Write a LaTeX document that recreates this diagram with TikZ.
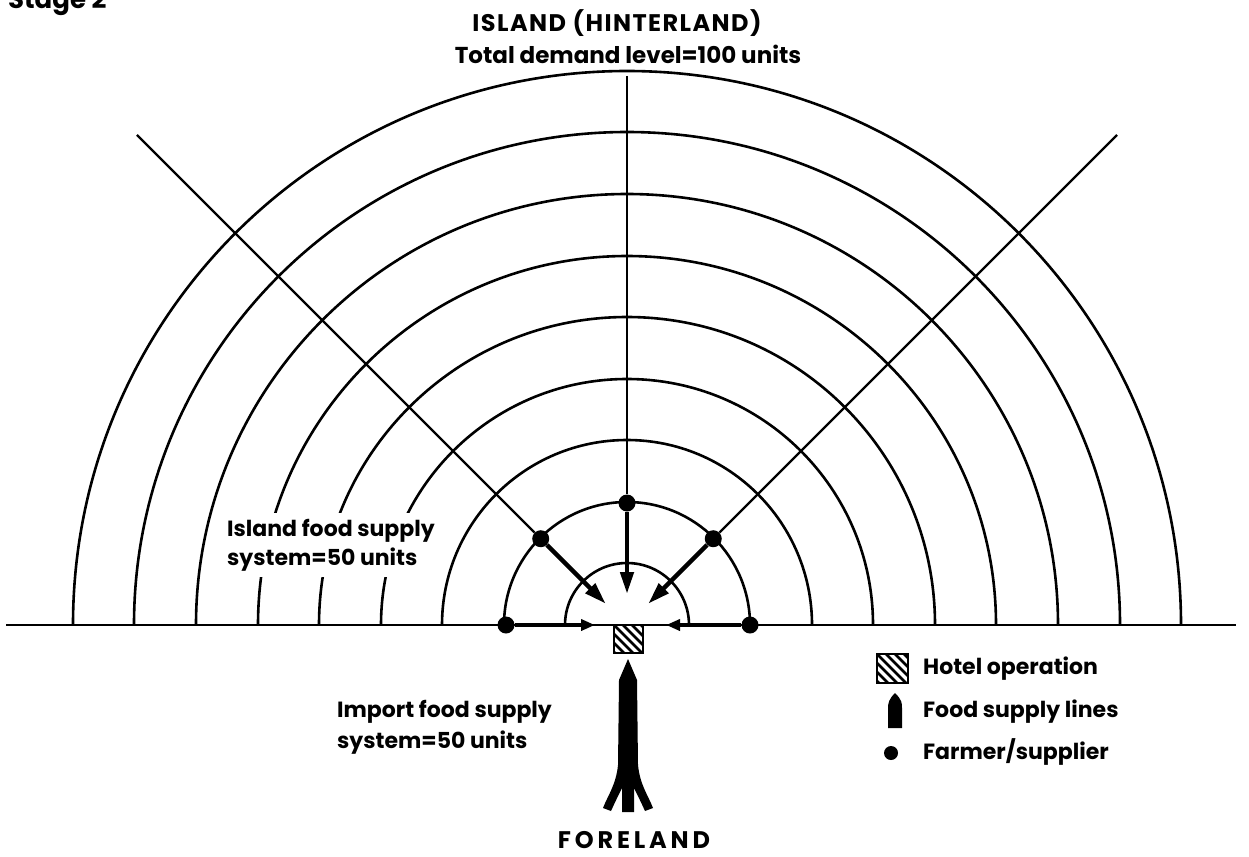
\documentclass[tikz,border=0pt]{standalone}
\usepackage{fontspec}
\setmainfont{Poppins}
\usetikzlibrary{calc,arrows.meta}
\begin{document}
\begin{tikzpicture}[x=1pt,y=-1pt,
  arcline/.style={line width=2.6pt},
  rayline/.style={line width=2.4pt},
  flow/.style={line width=4.5pt,-{Triangle[length=22pt,width=13pt]}},
  sideflow/.style={line width=4pt,-{Triangle[length=14pt,width=11pt]}},
  dot/.style={circle,fill=black,minimum size=17pt,inner sep=0pt},
  legdot/.style={circle,fill=black,minimum size=14pt,inner sep=0pt},
  hatchbox/.style={draw,line width=2pt,inner sep=0pt,
    path picture={\foreach \k in {-5,...,4}
      \draw[line width=2.6pt] ($(path picture bounding box.north west)+(\k*9,0)$) -- ++(45,45);}},
  title/.style={inner sep=0pt},
  subtitle/.style={font=\bfseries\fontsize{23}{28}\selectfont,inner sep=0pt},
  lbl/.style={font=\bfseries\fontsize{22}{29}\selectfont,align=left,inner sep=0pt},
  leg/.style={font=\bfseries\fontsize{22}{24}\selectfont,anchor=west,inner sep=0pt}
]
\useasboundingbox (0,0) rectangle (1249,856);
\clip (0,0) rectangle (1249,856);

\coordinate (C) at (627,625);

% semicircles
\foreach \r in {62,123,185,246,308,369,431,493,554}
  \draw[arcline] ($(C)+(-\r,0)$) arc[start angle=180,end angle=360,radius=\r];

% baseline
\coordinate (bl) at (6,625);
\coordinate (br) at (1236,625);
\draw[arcline] (bl) -- (br);

% farmers/suppliers
\node[dot] (dT) at ($(C)+(270:122)$) {};
\node[dot] (dL) at ($(C)+(225:122)$) {};
\node[dot] (dR) at ($(C)+(315:122)$) {};
\node[dot] (dBL) at (506,625) {};
\node[dot] (dBR) at (750,625) {};

% rays
\coordinate (sT) at ($(C)+(270:549)$);
\coordinate (sL) at ($(C)+(225:693)$);
\coordinate (sR) at ($(C)+(315:693)$);
\draw[rayline] (sT) -- (dT);
\draw[rayline] (sL) -- (dL);
\draw[rayline] (sR) -- (dR);

% flows to hotel
\coordinate (tT) at ($(C)+(270:31)$);
\coordinate (tL) at ($(C)+(225:30)$);
\coordinate (tR) at ($(C)+(315:30)$);
\coordinate (tBL) at (595,625);
\coordinate (tBR) at (666,625);
\draw[flow] (dT) -- (tT);
\draw[flow] (dL) -- (tL);
\draw[flow] (dR) -- (tR);
\draw[sideflow] (dBL) -- (tBL);
\draw[sideflow] (dBR) -- (tBR);

% hotel
\node[hatchbox,minimum width=29pt,minimum height=28pt] (hotel) at (628.5,639) {};

% import food supply line (rocket)
\fill (628,659) -- (637,680) -- (638,765)
  .. controls (640,785) and (648,795) .. (653,808)
  -- (645,811) .. controls (640,800) and (636,792) .. (634,788)
  -- (634,812) -- (622,812) -- (622,788)
  .. controls (620,792) and (616,800) .. (611,811)
  -- (603,808) .. controls (608,795) and (616,785) .. (618,765)
  -- (619,680) -- cycle;

% texts
\node[anchor=base west,inner sep=0pt,font=\bfseries\fontsize{26}{30}\selectfont] (stage) at (8,9) {Stage 2};
\node[title,font=\bfseries\fontsize{24}{30}\selectfont\addfontfeature{LetterSpace=6}] (island) at (617,23) {ISLAND (HINTERLAND)};
\node[subtitle] (demand) at (628,54) {Total demand level=100 units};
\node[lbl,anchor=west,fill=white,inner ysep=6pt,inner xsep=2pt] (isl) at (225,545) {Island food supply\\system=50 units};
\node[lbl,anchor=west,font=\bfseries\fontsize{22}{31}\selectfont] (imp) at (337,727) {Import food supply\\system=50 units};
\node[title,font=\bfseries\fontsize{24}{30}\selectfont\addfontfeature{LetterSpace=16}] (fore) at (634,840) {FORELAND};

% legend
\node[hatchbox,minimum width=31pt,minimum height=29pt] (lh) at (892.5,668.5) {};
\node[leg] (lht) at (923,669) {Hotel operation};
\fill (895,693) .. controls (902,700) and (902,703) .. (902,708) -- (902,728) -- (888,728) -- (888,708)
  .. controls (888,703) and (889,699) .. cycle;
\node[leg] (lft) at (923,712) {Food supply lines};
\node[legdot] (ld) at (891,753) {};
\node[leg] (ldt) at (923,752) {Farmer/supplier};
\end{tikzpicture}
\end{document}
